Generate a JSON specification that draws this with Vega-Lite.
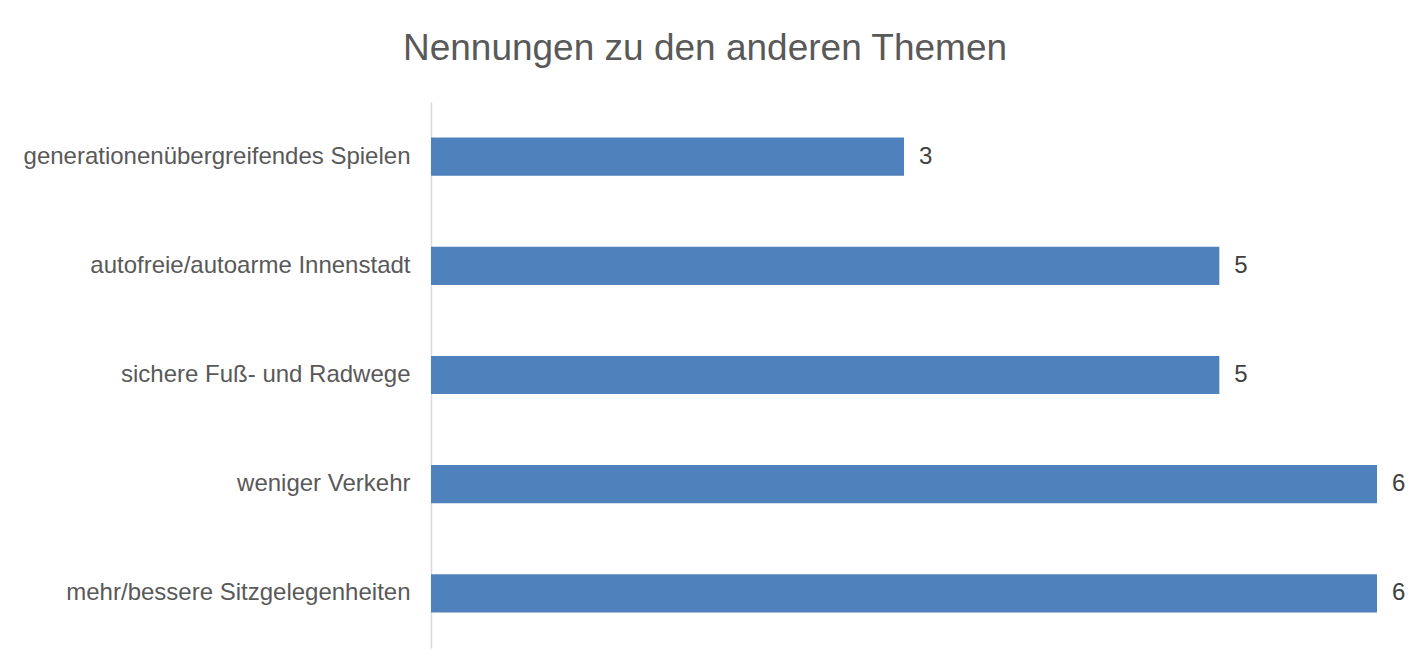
{
  "$schema": "https://vega.github.io/schema/vega-lite/v6.json",
  "width": 946,
  "height": 546,
  "autosize": {"type": "none"},
  "padding": {"left": 431, "top": 102, "right": 34, "bottom": 23},
  "background": "white",
  "title": {
    "text": "Nennungen zu den anderen Themen",
    "font": "Liberation Sans",
    "fontSize": 37,
    "fontWeight": "normal",
    "color": "#595959",
    "anchor": "middle",
    "frame": "group",
    "dx": -199,
    "baseline": "alphabetic",
    "offset": 5
  },
  "data": {
    "values": [
      {"thema": "generationenübergreifendes Spielen", "anzahl": 3},
      {"thema": "autofreie/autoarme Innenstadt", "anzahl": 5},
      {"thema": "sichere Fuß- und Radwege", "anzahl": 5},
      {"thema": "weniger Verkehr", "anzahl": 6},
      {"thema": "mehr/bessere Sitzgelegenheiten", "anzahl": 6}
    ]
  },
  "encoding": {
    "y": {
      "field": "thema",
      "type": "nominal",
      "sort": null,
      "scale": {"paddingInner": 0.65, "paddingOuter": 0.325},
      "axis": {
        "title": null,
        "ticks": false,
        "domainColor": "#d9d9d9",
        "domainWidth": 1.5,
        "labelFont": "Liberation Sans",
        "labelFontSize": 24,
        "labelColor": "#595959",
        "labelPadding": 21,
        "labelLimit": 500
      }
    },
    "x": {
      "field": "anzahl",
      "type": "quantitative",
      "scale": {"domain": [0, 6], "nice": false},
      "axis": null
    }
  },
  "layer": [
    {"mark": {"type": "bar", "color": "#4f81bd"}},
    {
      "mark": {
        "type": "text",
        "align": "left",
        "dx": 15,
        "font": "Liberation Sans",
        "fontSize": 24,
        "color": "#404040"
      },
      "encoding": {"text": {"field": "anzahl", "type": "quantitative"}}
    }
  ],
  "config": {"view": {"stroke": null}}
}
